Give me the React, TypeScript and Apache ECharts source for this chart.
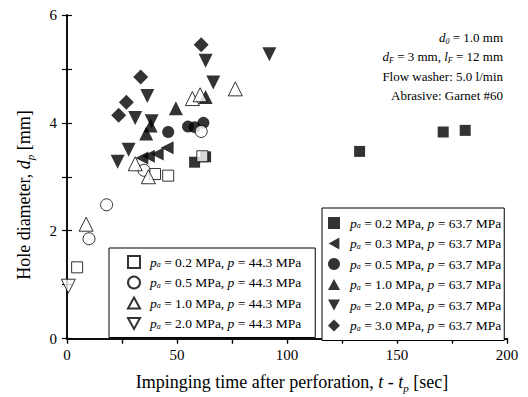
import React, { useEffect, useRef } from "react";
import * as echarts from "echarts";

const FONT = "'Liberation Serif', 'Times New Roman', serif";

// p = 44.3 MPa (open markers)
const pa44Labels = ["0.2", "0.5", "1.0", "2.0"];
const open02: number[][] = [[4.6, 1.32], [40, 3.05], [46, 3.02], [61.5, 3.38]];
const open05: number[][] = [[10, 1.85], [18, 2.48], [35, 3.12], [61, 3.84]];
const open10: number[][] = [[8.7, 2.12], [31, 3.24], [37, 3.0], [57, 4.45], [60.5, 4.52], [76.5, 4.63]];
const open20: number[][] = [[0.6, 0.97]];

// p = 63.7 MPa (filled markers)
const pa63Labels = ["0.2", "0.3", "0.5", "1.0", "2.0", "3.0"];
const fill02: number[][] = [[58, 3.27], [63, 3.37], [133, 3.47], [171, 3.83], [181, 3.86]];
const fill03: number[][] = [[34, 3.35], [37, 3.38], [41, 3.42], [45.5, 3.54]];
const fill05: number[][] = [[46, 3.83], [55, 3.93], [58, 3.92], [62, 4.0]];
const fill10: number[][] = [[36, 3.8], [38, 3.95], [49.5, 4.27], [63, 4.48]];
const fill20: number[][] = [[23, 3.28], [28, 3.5], [31, 4.09], [36.5, 4.5], [38.5, 4.03], [63, 5.15], [66.5, 4.75], [92, 5.27]];
const fill30: number[][] = [[23.5, 4.14], [27, 4.38], [33.5, 4.85], [61, 5.45]];

const DOWN = "path://M0,0 L10,0 L5,9 Z";
const LEFT = "path://M9,0 L9,10 L0,5 Z";
const UP = "path://M5,0 L10,9 L0,9 Z";

const name44 = (v: string) => `pa = ${v} MPa, p = 44.3 MPa`;
const name63 = (v: string) => `pa = ${v} MPa, p = 63.7 MPa`;

const rich = (fs: number, lh?: number) => {
  const sub = Math.round(fs * 0.62);
  const L = lh ?? fs + 4;
  return {
    r: { fontFamily: FONT, fontSize: fs, color: "#000", lineHeight: L },
    i: { fontFamily: FONT, fontSize: fs, fontStyle: "italic", color: "#000", lineHeight: L },
    s: { fontFamily: FONT, fontSize: sub, fontStyle: "italic", color: "#000", lineHeight: sub, verticalAlign: "bottom" },
  };
};

export default function App() {
  const ref = useRef<HTMLDivElement>(null);
  useEffect(() => {
    if (!ref.current) return;
    const chart = echarts.init(ref.current, null, { renderer: "svg" });

    const openStyle = { color: "#fff", borderColor: "#000", borderWidth: 1 };
    const fillStyle = { color: "#000", borderColor: "#000", borderWidth: 0 };
    const mk = (name: string, data: number[][], symbol: string, size: number, style: any, z: number) => ({
      type: "scatter",
      name,
      data,
      symbol,
      symbolSize: size,
      itemStyle: style,
      xAxisIndex: 0,
      yAxisIndex: 0,
      z,
      emphasis: { disabled: true },
    });

    const series = [
      mk(name63(pa63Labels[0]), fill02, "rect", 11, fillStyle, 2),
      mk(name63(pa63Labels[1]), fill03, LEFT, 13, fillStyle, 2),
      mk(name63(pa63Labels[2]), fill05, "circle", 12, fillStyle, 2),
      mk(name63(pa63Labels[3]), fill10, UP, 14, fillStyle, 2),
      mk(name63(pa63Labels[4]), fill20, DOWN, 14, fillStyle, 2),
      mk(name63(pa63Labels[5]), fill30, "diamond", 15, fillStyle, 2),
      mk(name44(pa44Labels[0]), open02, "rect", 11, openStyle, 3),
      mk(name44(pa44Labels[1]), open05, "circle", 12, openStyle, 3),
      mk(name44(pa44Labels[2]), open10, UP, 14, openStyle, 3),
      mk(name44(pa44Labels[3]), open20, DOWN, 14, openStyle, 3),
    ];

    const legendFmt = (name: string) => {
      const m = name.match(/pa = (\S+) MPa, p = (\S+) MPa/);
      if (!m) return name;
      return `{i|p}{s|a}{r| = ${m[1]} MPa, }{i|p}{r| = ${m[2]} MPa}`;
    };
    const LF = 13.5;
    const legendBase = {
      orient: "vertical",
      itemWidth: 12,
      itemHeight: 12,
      itemGap: 6.5,
      borderColor: "#000",
      borderWidth: 1,
      backgroundColor: "#fff",
      formatter: legendFmt,
      selectedMode: false,
      textStyle: { fontFamily: FONT, fontSize: LF, color: "#000", padding: [0, 0, 0, 5], rich: rich(LF, 13) },
    };

    const axisLine = { show: true, lineStyle: { color: "#000", width: 1.5 } };
    const tickStyle = { color: "#000", width: 1.2 };

    const option: any = {
      animation: false,
      backgroundColor: "#fff",
      grid: { left: 67, right: 21, top: 15, bottom: 58.5 },
      xAxis: [
        {
          type: "value", min: 0, max: 200, interval: 25, position: "bottom",
          axisLine, splitLine: { show: false },
          axisTick: { show: true, inside: false, length: 5, lineStyle: tickStyle },
          axisLabel: { formatter: (v: number) => (v % 50 === 0 ? String(v) : ""), fontFamily: FONT, fontSize: 15, color: "#000", margin: 9 },
        },
        {
          type: "value", min: 0, max: 200, interval: 25, position: "top",
          axisLine, splitLine: { show: false },
          axisTick: { show: true, inside: true, length: 5, lineStyle: tickStyle },
          axisLabel: { show: false },
        },
      ],
      yAxis: [
        {
          type: "value", min: 0, max: 6, interval: 1, position: "left",
          axisLine, splitLine: { show: false },
          axisTick: { show: true, inside: false, length: 5, lineStyle: tickStyle },
          axisLabel: { formatter: (v: number) => (v % 2 === 0 ? String(v) : ""), fontFamily: FONT, fontSize: 15, color: "#000", margin: 10 },
        },
        {
          type: "value", min: 0, max: 6, interval: 1, position: "right",
          axisLine, splitLine: { show: false },
          axisTick: { show: true, inside: false, length: 5, lineStyle: tickStyle },
          axisLabel: { show: false },
        },
      ],
      legend: [
        {
          ...legendBase,
          left: 109, top: 248,
          padding: [7, 14, 7, 18],
          data: pa44Labels.map(name44),
        },
        {
          ...legendBase,
          left: 322, top: 208,
          padding: [8, 3, 8, 6],
          data: pa63Labels.map(name63),
        },
      ],
      graphic: [
        {
          type: "text", x: 24, y: 195, rotation: Math.PI / 2,
          style: { text: "{r|Hole diameter, }{i|d}{s|p}{r| [mm]}", align: "center", verticalAlign: "middle", rich: rich(18) },
        },
        {
          type: "text", x: 292, y: 382,
          style: { text: "{r|Impinging time after perforation, }{i|t}{r| - }{i|t}{s|p}{r| [sec]}", align: "center", verticalAlign: "middle", rich: rich(18) },
        },
        {
          type: "text", x: 503, y: 37,
          style: { text: "{i|d}{s|0}{r| = 1.0 mm}", align: "right", verticalAlign: "middle", rich: rich(13) },
        },
        {
          type: "text", x: 503, y: 56,
          style: { text: "{i|d}{s|F}{r| = 3 mm, }{i|l}{s|F}{r| = 12 mm}", align: "right", verticalAlign: "middle", rich: rich(13) },
        },
        {
          type: "text", x: 503, y: 76,
          style: { text: "{r|Flow washer: 5.0 l/min}", align: "right", verticalAlign: "middle", rich: rich(13) },
        },
        {
          type: "text", x: 503, y: 95,
          style: { text: "{r|Abrasive: Garnet #60}", align: "right", verticalAlign: "middle", rich: rich(13) },
        },
      ],
      series,
    };
    chart.setOption(option);
    return () => chart.dispose();
  }, []);
  return <div ref={ref} style={{ width: 528, height: 397, position: "absolute", left: 0, top: 0 }} />;
}
